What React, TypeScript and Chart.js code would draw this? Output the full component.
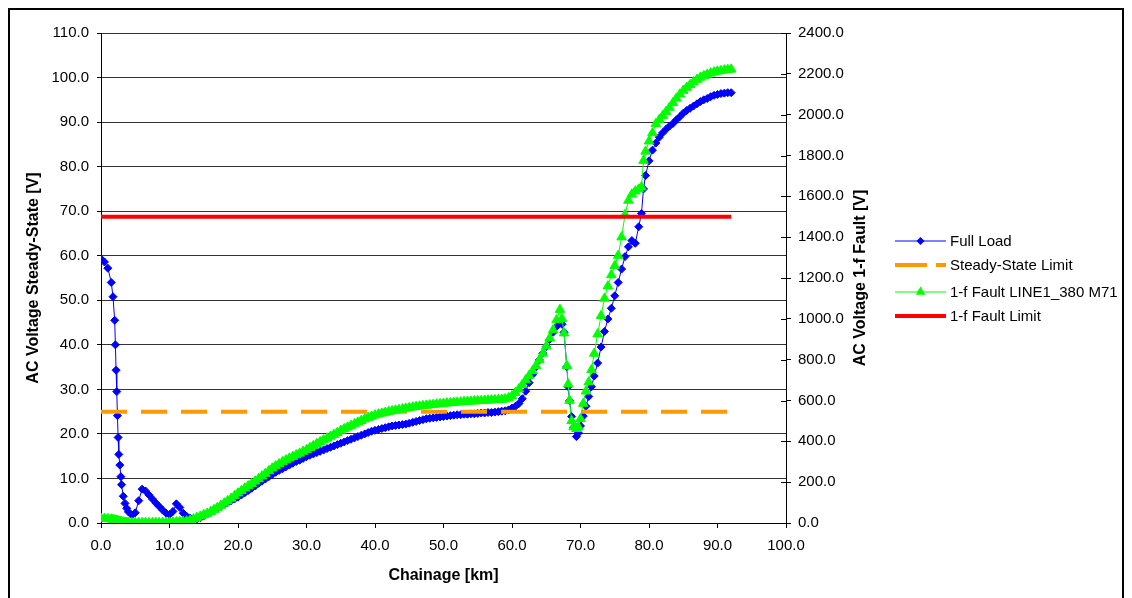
import React, { useEffect, useRef } from "react";
import { Chart, registerables } from "chart.js";

Chart.register(...registerables);

// ---------- data ----------
const chainageKm = [
  0, 0.5, 1, 1.5, 1.75, 2, 2.1, 2.2, 2.3, 2.4,
  2.5, 2.6, 2.75, 2.9, 3, 3.25, 3.5, 3.75, 4, 4.5,
  5, 5.5, 6, 6.5, 7, 7.5, 8, 8.5, 9, 9.5,
  10, 10.5, 11, 11.5, 12, 12.5, 13, 13.5, 14, 14.5,
  15, 15.5, 16, 16.5, 17, 17.5, 18, 18.5, 19, 19.5,
  20, 20.5, 21, 21.5, 22, 22.5, 23, 23.5, 24, 24.5,
  25, 25.5, 26, 26.5, 27, 27.5, 28, 28.5, 29, 29.5,
  30, 30.5, 31, 31.5, 32, 32.5, 33, 33.5, 34, 34.5,
  35, 35.5, 36, 36.5, 37, 37.5, 38, 38.5, 39, 39.5,
  40, 40.5, 41, 41.5, 42, 42.5, 43, 43.5, 44, 44.5,
  45, 45.5, 46, 46.5, 47, 47.5, 48, 48.5, 49, 49.5,
  50, 50.5, 51, 51.5, 52, 52.5, 53, 53.5, 54, 54.5,
  55, 55.5, 56, 56.5, 57, 57.5, 58, 58.5, 59, 59.5,
  60, 60.5, 61, 61.5, 62, 62.5, 63, 63.5, 64, 64.5,
  65, 65.5, 66, 66.5, 67, 67.3, 67.6, 68, 68.2, 68.4,
  68.7, 69, 69.4, 69.7, 70, 70.4, 70.8, 71.2, 71.6, 72,
  72.5, 73, 73.5, 74, 74.5, 75, 75.5, 76, 76.5, 77,
  77.5, 78, 78.5, 78.9, 79.2, 79.5, 80, 80.5, 81, 81.5,
  82, 82.5, 83, 83.5, 84, 84.5, 85, 85.5, 86, 86.5,
  87, 87.5, 88, 88.5, 89, 89.5, 90, 90.5, 91, 91.5,
  92,
];

// Full Load – AC Voltage Steady-State [V] (left axis)
const fullLoadV = [
  59.3, 58.6, 57.2, 54.0, 50.8, 45.5, 40.0, 34.3, 29.5, 24.1,
  19.2, 15.4, 13.0, 10.4, 8.6, 6.0, 4.4, 3.3, 2.5, 1.8,
  2.3, 5.0, 7.6, 7.2, 6.3, 5.4, 4.5, 3.7, 2.9, 2.2,
  1.9, 2.6, 4.3, 3.5, 2.2, 1.5, 1.1, 0.8, 0.9, 1.2,
  1.6, 2.0, 2.4, 2.9, 3.3, 3.8, 4.2, 4.6, 5.0, 5.4,
  5.8, 6.3, 6.8, 7.3, 7.8, 8.3, 8.9, 9.4, 9.9, 10.4,
  10.9, 11.4, 11.8, 12.2, 12.6, 13.0, 13.4, 13.8, 14.1, 14.5,
  14.9, 15.2, 15.5, 15.8, 16.1, 16.4, 16.7, 17.0, 17.3, 17.6,
  17.9, 18.2, 18.5, 18.8, 19.1, 19.4, 19.7, 20.0, 20.3, 20.6,
  20.8, 21.0, 21.2, 21.4, 21.6, 21.8, 21.9, 22.0, 22.1, 22.2,
  22.4, 22.6, 22.8, 23.0, 23.2, 23.4, 23.5, 23.6, 23.7, 23.8,
  23.9, 24.0, 24.1, 24.2, 24.3, 24.3, 24.4, 24.4, 24.5, 24.5,
  24.6, 24.7, 24.7, 24.8, 24.8, 24.9, 25.0, 25.1, 25.2, 25.4,
  25.8, 26.2, 26.8, 27.9, 29.6, 31.5, 33.3, 35.0, 36.6, 38.1,
  39.6, 41.2, 42.8, 44.1, 45.0, 44.6, 42.8, 35.1, 30.6, 27.5,
  23.9, 21.5, 19.4, 20.2, 21.8, 24.0, 26.2, 28.4, 30.6, 33.0,
  35.9, 39.5, 43.0, 45.8, 48.2, 51.0, 54.0, 57.0, 59.8, 62.0,
  63.4, 62.8, 66.5, 69.5, 75.0, 78.0, 81.3, 83.7, 85.3, 86.6,
  87.6, 88.4, 89.1, 89.7, 90.5, 91.2, 92.0, 92.6, 93.1, 93.6,
  94.1, 94.6, 95.0, 95.3, 95.7, 96.0, 96.2, 96.4, 96.5, 96.6,
  96.6,
];

// 1-f Fault LINE1_380 M71 – AC Voltage 1-f Fault [V] (right axis)
const faultV = [
  22, 22, 21, 18, 16, 14, 13, 12, 11, 10,
  9, 8, 7, 6, 5, 4, 3, 2, 2, 1,
  1, 1, 1, 1, 1, 1, 1, 1, 1, 2,
  3, 4, 5, 6, 7, 9, 13, 19, 26, 33,
  40, 47, 55, 65, 75, 86, 97, 108, 120, 133,
  146, 158, 170, 181, 192, 204, 216, 229, 242, 255,
  268, 279, 289, 299, 308, 317, 325, 333, 341, 350,
  358, 368, 378, 388, 397, 406, 415, 424, 433, 442,
  453, 461, 469, 477, 485, 493, 501, 509, 516, 522,
  528, 533, 537, 541, 545, 549, 552, 555, 558, 561,
  564, 567, 570, 572, 574, 576, 578, 580, 582, 583,
  585, 587, 588, 590, 591, 592, 594, 595, 596, 597,
  598, 599, 600, 601, 602, 603, 604, 605, 607, 612,
  622, 638, 656, 677, 700, 722, 745, 770, 798, 830,
  866, 905, 945, 994, 1045, 1000, 930, 770, 680, 600,
  500, 470, 462, 470, 510, 585, 645, 690, 750, 830,
  925, 1015, 1100, 1160, 1215, 1260, 1310, 1400, 1510, 1580,
  1610, 1625, 1635, 1645, 1775, 1820, 1870, 1910, 1955, 1975,
  1995, 2015, 2035, 2058, 2080, 2100, 2118, 2133, 2147, 2160,
  2172, 2182, 2190, 2197, 2203, 2208, 2212, 2215, 2218, 2220,
  2222,
];

const steadyLimitKm = [0, 92];
const steadyLimitV = [25, 25];
const faultLimitKm = [0, 92];
const faultLimitV = [1500, 1500];

const seriesNames = [
  "Full Load",
  "Steady-State Limit",
  "1-f Fault LINE1_380 M71",
  "1-f Fault Limit",
];
const xTitle = "Chainage [km]";
const leftTitle = "AC Voltage Steady-State [V]";
const rightTitle = "AC Voltage 1-f Fault [V]";

const xRange = [0, 100, 10];
const leftRange = [0, 110, 10];
const rightRange = [0, 2400, 200];

// ---------- styles ----------
const FONT = '"Liberation Sans", Arial, sans-serif';
const BLUE = "#0000FF";
const GREEN = "#00FF00";
const ORANGE = "#FF9900";
const RED = "#FF0000";

const W = 1116;
const H = 600;

const toPts = (xs: number[], ys: number[]) => xs.map((x, i) => ({ x, y: ys[i] }));

function drawDiamond(ctx: CanvasRenderingContext2D, x: number, y: number, r: number, color: string) {
  ctx.beginPath();
  ctx.moveTo(x, y - r);
  ctx.lineTo(x + r, y);
  ctx.lineTo(x, y + r);
  ctx.lineTo(x - r, y);
  ctx.closePath();
  ctx.fillStyle = color;
  ctx.fill();
}

function drawTriangle(ctx: CanvasRenderingContext2D, x: number, y: number, r: number, color: string) {
  const h = r * 1.5;
  const half = r * 0.866;
  ctx.beginPath();
  ctx.moveTo(x, y - r);
  ctx.lineTo(x + half, y - r + h);
  ctx.lineTo(x - half, y - r + h);
  ctx.closePath();
  ctx.fillStyle = color;
  ctx.fill();
}

const decorPlugin = {
  id: "decor",
  afterDraw(chart: any) {
    const ctx: CanvasRenderingContext2D = chart.ctx;
    const ca = chart.chartArea;
    ctx.save();

    // outer frame (bottom edge lies outside the view)
    ctx.strokeStyle = "#000";
    ctx.lineWidth = 2;
    ctx.beginPath();
    ctx.moveTo(1, H + 10);
    ctx.lineTo(1, 1);
    ctx.lineTo(W - 1, 1);
    ctx.lineTo(W - 1, H + 10);
    ctx.stroke();

    // inner ticks on right axis (cross style)
    const ry = chart.scales.y1;
    ctx.lineWidth = 1;
    ctx.beginPath();
    ry.ticks.forEach((t: any) => {
      const py = Math.round(ry.getPixelForValue(t.value)) + 0.5;
      ctx.moveTo(ca.right - 5, py);
      ctx.lineTo(ca.right, py);
    });
    ctx.stroke();

    // axis titles
    ctx.fillStyle = "#000";
    ctx.font = `bold 16px ${FONT}`;
    ctx.textAlign = "center";
    ctx.textBaseline = "middle";
    const cy = (ca.top + ca.bottom) / 2;
    ctx.save();
    ctx.translate(26, cy);
    ctx.rotate(-Math.PI / 2);
    ctx.fillText(leftTitle, 0, 0);
    ctx.restore();
    ctx.save();
    ctx.translate(853, cy);
    ctx.rotate(-Math.PI / 2);
    ctx.fillText(rightTitle, 0, 0);
    ctx.restore();
    ctx.fillText(xTitle, (ca.left + ca.right) / 2, 568);

    // legend
    const x0 = 887;
    const x1 = 938;
    const tx = 942;
    const ys = [233, 257, 284, 308];
    const mid = (x0 + x1) / 2;
    ctx.strokeStyle = BLUE;
    ctx.lineWidth = 1;
    ctx.beginPath();
    ctx.moveTo(x0, ys[0]);
    ctx.lineTo(x1, ys[0]);
    ctx.stroke();
    drawDiamond(ctx, mid, ys[0], 4, BLUE);

    ctx.strokeStyle = ORANGE;
    ctx.lineWidth = 4;
    ctx.setLineDash([32, 9]);
    ctx.beginPath();
    ctx.moveTo(x0, ys[1]);
    ctx.lineTo(x1, ys[1]);
    ctx.stroke();
    ctx.setLineDash([]);

    ctx.strokeStyle = GREEN;
    ctx.lineWidth = 1;
    ctx.beginPath();
    ctx.moveTo(x0, ys[2]);
    ctx.lineTo(x1, ys[2]);
    ctx.stroke();
    drawTriangle(ctx, mid, ys[2], 5.5, GREEN);

    ctx.strokeStyle = RED;
    ctx.lineWidth = 4;
    ctx.beginPath();
    ctx.moveTo(x0, ys[3]);
    ctx.lineTo(x1, ys[3]);
    ctx.stroke();

    ctx.fillStyle = "#000";
    ctx.font = `15px ${FONT}`;
    ctx.textAlign = "left";
    ctx.textBaseline = "middle";
    seriesNames.forEach((n, i) => ctx.fillText(n, tx, ys[i] + 1));
    ctx.restore();
  },
};

export default function App() {
  const ref = useRef<HTMLCanvasElement | null>(null);

  useEffect(() => {
    document.documentElement.style.overflow = "hidden";
    const canvas = ref.current;
    if (!canvas) return;
    const fmt = (v: any) => Number(v).toFixed(1);
    const chart = new Chart(canvas, {
      type: "line",
      data: {
        datasets: [
          {
            label: seriesNames[0],
            data: toPts(chainageKm, fullLoadV),
            yAxisID: "y",
            borderColor: BLUE,
            backgroundColor: BLUE,
            borderWidth: 1,
            pointStyle: "rectRot",
            pointRadius: 4,
            pointBorderWidth: 1,
            pointBackgroundColor: BLUE,
            pointBorderColor: BLUE,
            tension: 0,
            order: 4,
          },
          {
            label: seriesNames[1],
            data: toPts(steadyLimitKm, steadyLimitV),
            yAxisID: "y",
            borderColor: ORANGE,
            borderWidth: 4,
            borderDash: [26, 14],
            pointRadius: 0,
            order: 3,
          },
          {
            label: seriesNames[2],
            data: toPts(chainageKm, faultV),
            yAxisID: "y1",
            borderColor: GREEN,
            backgroundColor: GREEN,
            borderWidth: 1,
            pointStyle: "triangle",
            pointRadius: 5.5,
            pointBorderWidth: 1,
            pointBackgroundColor: GREEN,
            pointBorderColor: GREEN,
            tension: 0,
            order: 2,
          },
          {
            label: seriesNames[3],
            data: toPts(faultLimitKm, faultLimitV),
            yAxisID: "y1",
            borderColor: RED,
            borderWidth: 4,
            pointRadius: 0,
            order: 1,
          },
        ],
      },
      options: {
        responsive: false,
        animation: false,
        events: [],
        layout: { padding: { top: 25, left: 0, right: 238, bottom: 25 } },
        plugins: {
          legend: { display: false },
          tooltip: { enabled: false },
          title: { display: false },
        },
        scales: {
          x: {
            type: "linear",
            min: xRange[0],
            max: xRange[1],
            afterFit: (s: any) => {
              s.height = 60;
            },
            ticks: {
              stepSize: xRange[2],
              callback: fmt,
              color: "#000",
              font: { family: FONT, size: 15 },
              padding: 9,
              maxRotation: 0,
            },
            grid: {
              drawOnChartArea: false,
              drawTicks: true,
              tickLength: 5,
              color: "#000",
            },
            border: { display: true, color: "#000", width: 1 },
          },
          y: {
            type: "linear",
            position: "left",
            min: leftRange[0],
            max: leftRange[1],
            afterFit: (s: any) => {
              s.width = 93;
            },
            ticks: {
              stepSize: leftRange[2],
              callback: fmt,
              color: "#000",
              font: { family: FONT, size: 15 },
              padding: 8,
            },
            grid: {
              color: "#333",
              lineWidth: 1,
              drawTicks: true,
              tickLength: 4,
              tickColor: "#000",
            },
            border: { display: true, color: "#000", width: 1 },
          },
          y1: {
            type: "linear",
            position: "right",
            min: rightRange[0],
            max: rightRange[1],
            afterFit: (s: any) => {
              s.width = 100;
            },
            ticks: {
              stepSize: rightRange[2],
              callback: fmt,
              color: "#000",
              font: { family: FONT, size: 15 },
              padding: 7,
            },
            grid: {
              drawOnChartArea: false,
              drawTicks: true,
              tickLength: 5,
              color: "#000",
            },
            border: { display: true, color: "#000", width: 1 },
          },
        },
      },
      plugins: [decorPlugin],
    });
    return () => chart.destroy();
  }, []);

  return (
    <div style={{ position: "relative", width: W, height: H }}>
      <canvas ref={ref} width={W} height={H} style={{ display: "block", width: W, height: H }} />
    </div>
  );
}
